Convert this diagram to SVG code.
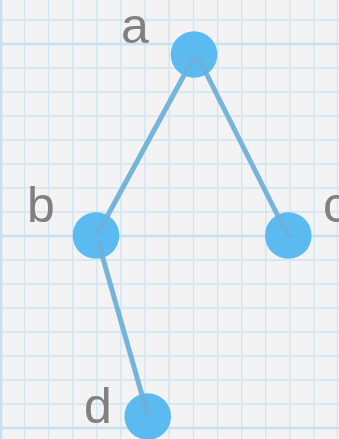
<svg xmlns="http://www.w3.org/2000/svg" width="339" height="439" viewBox="0 0 339 439">
  <style>
    .grid { stroke: #cfe5f3; stroke-width: 1.4; fill: none; }
    .major { stroke: #c6e1f2; stroke-width: 2.6; fill: none; }
    .node { fill: #5bbaf0; }
    .edge { stroke: #6bb0d9; stroke-width: 5; stroke-opacity: 0.92; fill: none; }
    .label { font-family: "Liberation Sans", Arial, sans-serif; font-size: 50px; fill: #808080; }
  </style>
  <rect x="0" y="0" width="339" height="439" fill="#f3f3f3"/>
  <g id="grid">
    <path class="grid" d="M24.5 0V439M48.5 0V439M72.7 0V439M96.8 0V439M120.9 0V439M145 0V439M169.1 0V439M193.5 0V439M217.6 0V439M241.7 0V439M265.8 0V439M289.9 0V439M314 0V439M337.5 0V439
      M0 20H339M0 68H339M0 92H339M0 116H339M0 140H339M0 164H339M0 188H339M0 212H339M0 260H339M0 284H339M0 308H339M0 332H339M0 356H339M0 380H339M0 404H339"/>
    <path class="major" d="M0 44H339M0 236H339M0 428H339M1 0V439"/>
  </g>
  <g id="node-a">
    <circle class="node" cx="194" cy="54.5" r="23.3"/>
    <text class="label" x="121" y="43">a</text>
  </g>
  <g id="node-b">
    <circle class="node" cx="96" cy="235.5" r="23.3"/>
    <text class="label" x="27" y="221.5">b</text>
  </g>
  <g id="node-c">
    <circle class="node" cx="288.3" cy="235.5" r="23.3"/>
    <text class="label" x="323" y="221.5">c</text>
  </g>
  <g id="node-d">
    <circle class="node" cx="147.7" cy="416.5" r="23.3"/>
    <text class="label" x="84" y="423.3">d</text>
  </g>
  <g id="connectors">
    <line class="edge" x1="194" y1="57" x2="97" y2="235"/>
    <line class="edge" x1="198" y1="57" x2="289" y2="238"/>
    <line class="edge" x1="98" y1="241" x2="148" y2="416"/>
  </g>
</svg>
